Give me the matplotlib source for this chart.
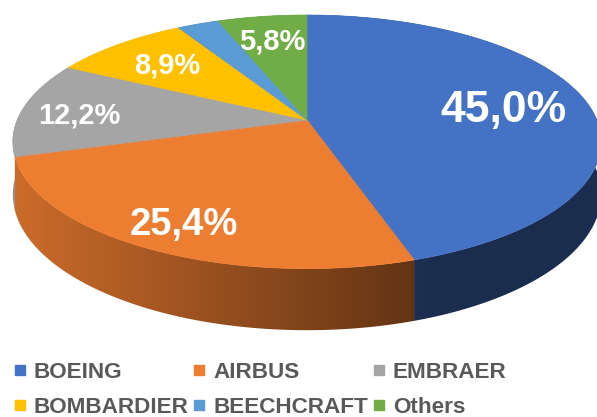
import numpy as np
import matplotlib
matplotlib.use('Agg')
import matplotlib.pyplot as plt
from matplotlib.patches import Polygon
from matplotlib.lines import Line2D
from matplotlib.colors import to_rgb
from matplotlib.font_manager import FontProperties

categories = ['BOEING', 'AIRBUS', 'EMBRAER', 'BOMBARDIER', 'BEECHCRAFT', 'Others']
shares = [45.0, 25.4, 12.2, 8.9, 2.7, 5.8]
label_texts = ['45,0%', '25,4%', '12,2%', '8,9%', '', '5,8%']
colors = ['#4472C4', '#ED7D31', '#A5A5A5', '#FFC000', '#5B9BD5', '#70AD47']

# style: label radial fraction and font size per slice
label_r = [0.70, 0.80, 0.80, 0.72, 0.75, 0.75]
label_fs = [32, 27.5, 21, 21, 21, 21]
label_dy = [4, 6, 5, 2, 2, 2]

W, H = 597, 417
fig = plt.figure(figsize=(W / 100, H / 100), dpi=100)
ax = fig.add_axes([0, 0, 1, 1])
ax.set_xlim(0, W)
ax.set_ylim(H, 0)
ax.axis('off')

# perspective projection of the unit disk onto the canvas
CX, CY = 307, 120
A, E, HP = 289.8, -102.4, 0.172
DEPTH = 51


def proj(u, v):
    d = 1 + HP * v
    return CX + A * u / d, (CY + E * v) / d


def side_depth(v):
    return DEPTH / (1 + HP * v)


def shade(x):
    return np.clip(0.86 - 0.44 * (x - 15) / 398, 0.40, 0.9)


total = sum(shares)
bounds = np.concatenate([[0], np.cumsum(shares)]) / total * 2 * np.pi

# side walls: one polygon per slice, filled with a horizontal gradient
xs_grad = np.linspace(0, W, 600)
fac = shade(xs_grad)
sides = []
for i, c in enumerate(colors):
    t0, t1 = bounds[i], bounds[i + 1]
    ts = np.linspace(t0, t1, max(3, int(np.degrees(t1 - t0) * 2)))
    top = [proj(np.sin(t), np.cos(t)) for t in ts]
    bot = [(x, y + side_depth(np.cos(t))) for (x, y), t in zip(top, ts)]
    pts = top + bot[::-1]
    vmid = np.cos((t0 + t1) / 2)
    sides.append((vmid, pts, c))
sides.sort(key=lambda s: -s[0])
for _, pts, c in sides:
    base = np.array(to_rgb(c))
    img = (fac[None, :, None] * base[None, None, :])
    img = np.repeat(img, 2, axis=0)
    poly = Polygon(pts, closed=True, facecolor='none', edgecolor='none')
    ax.add_patch(poly)
    im = ax.imshow(img, extent=(0, W, H, 0), aspect='auto', interpolation='bilinear', zorder=1)
    im.set_clip_path(poly)

ax.set_xlim(0, W)
ax.set_ylim(H, 0)

# top faces
for i, c in enumerate(colors):
    t0, t1 = bounds[i], bounds[i + 1]
    ts = np.linspace(t0, t1, max(3, int(np.degrees(t1 - t0))))
    pts = [proj(0, 0)] + [proj(np.sin(t), np.cos(t)) for t in ts]
    ax.add_patch(Polygon(pts, closed=True, facecolor=c, edgecolor=c, lw=0.5, zorder=2))

# labels
for i, txt in enumerate(label_texts):
    if not txt:
        continue
    tm = (bounds[i] + bounds[i + 1]) / 2
    r = label_r[i]
    x, y = proj(r * np.sin(tm), r * np.cos(tm))
    ax.text(x, y + label_dy[i], txt, ha='center', va='center', color='white', zorder=3,
            fontsize=label_fs[i], fontweight='bold', family='Liberation Sans')

handles = [Line2D([], [], marker='s', ls='', color=c, markersize=7.5) for c in colors]
order = [0, 3, 1, 4, 2, 5]
fig.legend([handles[i] for i in order], [categories[i] for i in order], ncol=3,
           loc='center left', bbox_to_anchor=(14 / W, 27 / H), frameon=False,
           prop=FontProperties(family='Liberation Sans', weight='bold', size=16.2),
           labelcolor='#595959', handlelength=0.5, handletextpad=0.38,
           columnspacing=0.22, labelspacing=0.65, borderpad=0, borderaxespad=0)

fig.savefig('out.png', dpi=100, facecolor='white')
